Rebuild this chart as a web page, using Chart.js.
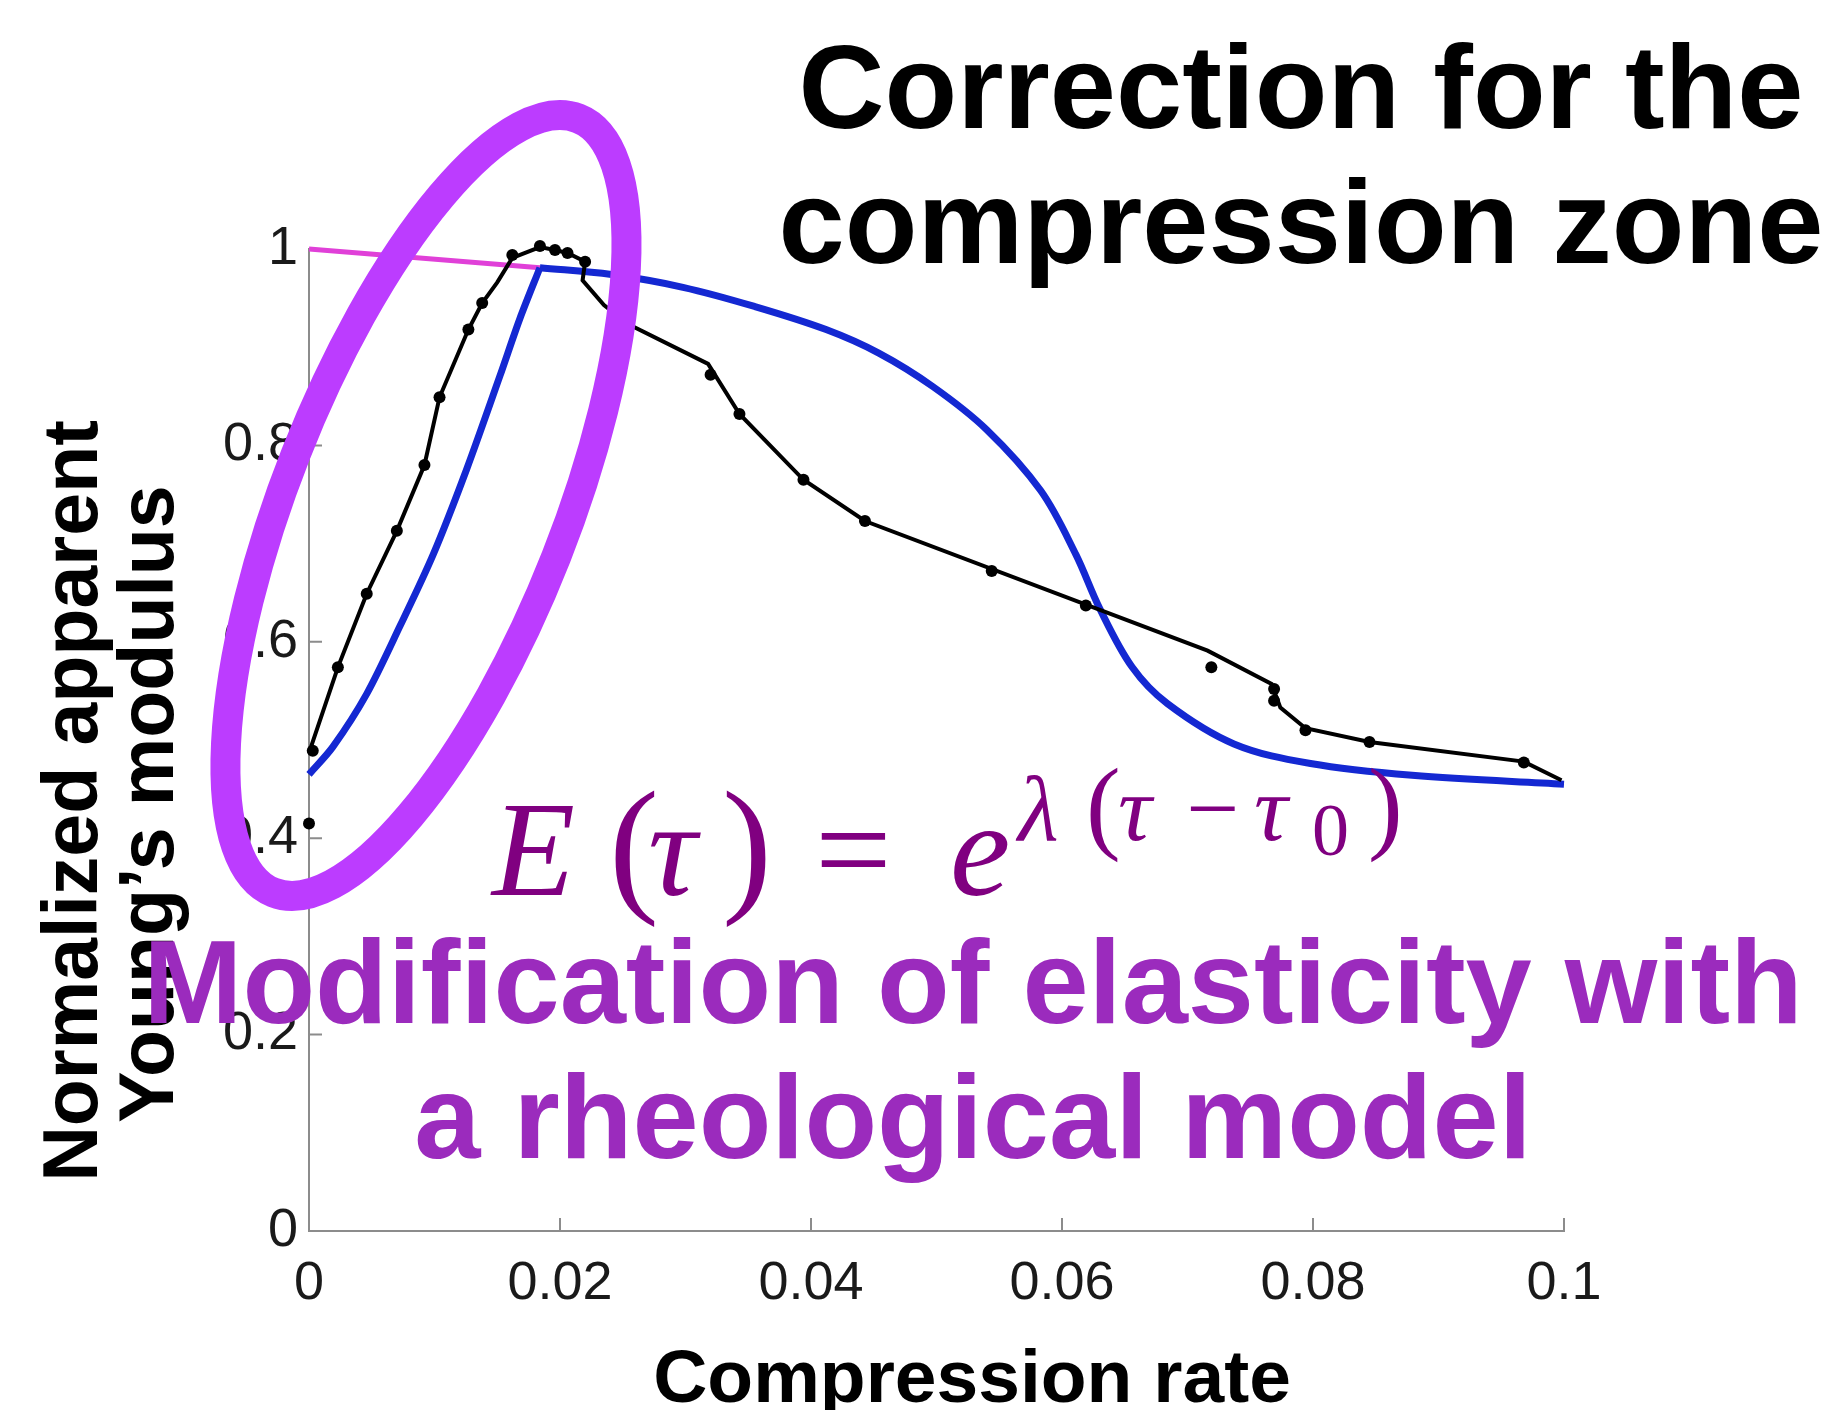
<!DOCTYPE html>
<html>
<head>
<meta charset="utf-8">
<script src="https://cdn.jsdelivr.net/npm/chart.js@4.4.1/dist/chart.umd.min.js"></script>
<style>
  html, body { margin: 0; padding: 0; background: #fff; overflow: hidden; }
  #wrap { position: relative; width: 1830px; height: 1410px; overflow: hidden; }
  canvas { position: absolute; left: 0; top: 0; }
  .t { position: absolute; line-height: 0; white-space: nowrap; font-family: 'Liberation Sans', Arial, sans-serif; font-weight: bold; }
  .c { transform: translate(-50%, -0.3465em); }
  .yt { left: 0; top: 0; transform-origin: 0 0; }
  .f { position: absolute; line-height: 0; white-space: nowrap; font-family: 'Liberation Serif', 'Times New Roman', serif; color: #800080; transform: translateY(-0.3375em); }
  .f.i { font-style: italic; }
</style>
</head>
<body>
<div id="wrap">
  <canvas id="chart" width="1830" height="1410"></canvas>

  <div class="t c" style="left:1301px; top:128px; font-size:119px; color:#000;">Correction for the</div>
  <div class="t c" style="left:1301px; top:263px; font-size:119px; color:#000;">compression zone</div>

  <div class="t yt" style="font-size:77px; color:#000; transform: translate(97px, 801px) rotate(-90deg) translate(-50%, -0.3465em);">Normalized apparent</div>
  <div class="t yt" style="font-size:77px; color:#000; transform: translate(173px, 804px) rotate(-90deg) translate(-50%, -0.3465em);">Young’s modulus</div>

  <div class="t c" style="left:972px; top:1402px; font-size:75px; color:#000;">Compression rate</div>

  <div id="formula"></div>

  <div class="t c" style="left:973px; top:1023px; font-size:119px; color:#9b2bbd;">Modification of elasticity with</div>
  <div class="t c" style="left:973px; top:1158px; font-size:119px; color:#9b2bbd;">a rheological model</div>
</div>

<script>
// tick values and labels
const xTicks = [0, 0.02, 0.04, 0.06, 0.08, 0.1];
const xTickLabels = ['0', '0.02', '0.04', '0.06', '0.08', '0.1'];
const yTicks = [0, 0.2, 0.4, 0.6, 0.8, 1];
const yTickLabels = ['0', '0.2', '0.4', '0.6', '0.8', '1'];

// measured data (black dots)
const dotsX = [0, 0.0003, 0.0023, 0.0046, 0.0070, 0.0092, 0.0104, 0.0127, 0.0138, 0.0162, 0.0184, 0.0196, 0.0206, 0.0220,
               0.0320, 0.0343, 0.0394, 0.0443, 0.0544, 0.0619, 0.0719, 0.0769, 0.0769, 0.0794, 0.0845, 0.0968];
const dotsY = [0.415, 0.489, 0.574, 0.649, 0.713, 0.780, 0.849, 0.918, 0.945, 0.994, 1.003, 0.999, 0.996, 0.987,
               0.872, 0.832, 0.765, 0.723, 0.672, 0.637, 0.574, 0.552, 0.540, 0.510, 0.498, 0.477];

// black fitted line
const blackX = [0, 0.0023, 0.0046, 0.0070, 0.0092, 0.0104, 0.0127, 0.0138, 0.0150, 0.0162, 0.0184, 0.0196, 0.0206, 0.0220,
                0.0218, 0.0235, 0.0255, 0.0318, 0.0343, 0.0394, 0.0443, 0.0716, 0.0767, 0.0774, 0.0794, 0.0845, 0.0968, 0.0998];
const blackY = [0.487, 0.574, 0.649, 0.713, 0.780, 0.849, 0.918, 0.945, 0.966, 0.991, 1.002, 0.999, 0.996, 0.987,
                0.968, 0.943, 0.923, 0.883, 0.832, 0.765, 0.723, 0.591, 0.557, 0.533, 0.512, 0.498, 0.478, 0.459];

// blue model curve, rising then falling part
const blueRiseX = [0, 0.0019, 0.0046, 0.00725, 0.0099, 0.01257, 0.01522, 0.0168, 0.0184];
const blueRiseY = [0.465, 0.493, 0.547, 0.616, 0.689, 0.776, 0.871, 0.929, 0.981];
const blueFallX = [0.0184, 0.0241, 0.0298, 0.0355, 0.0412, 0.0454, 0.0497, 0.0540, 0.0583, 0.0611, 0.0630, 0.0656,
                   0.0684, 0.0737, 0.0798, 0.0879, 0.1];
const blueFallY = [0.981, 0.974, 0.961, 0.9415, 0.918, 0.894, 0.860, 0.816, 0.754, 0.689, 0.634, 0.574,
                   0.537, 0.496, 0.476, 0.464, 0.455];

// magenta correction segment
const magentaX = [0, 0.0184];
const magentaY = [1.0, 0.981];

// highlight ellipse centre (data units)
const ellipseCenter = [0.00932, 0.7388];

const pts = (xs, ys) => xs.map((x, i) => ({ x: x, y: ys[i] }));

// formula glyphs: text, left, baseline, size, italic
const formulaGlyphs = [
  ['E', 492, 895, 136, true], ['(', 609, 895, 150, false], ['τ', 648, 895, 136, true], [')', 722, 895, 150, false],
  ['=', 815, 895, 136, false], ['e', 950, 895, 136, true],
  ['λ', 1018, 840, 94, true], ['(', 1086, 840, 104, false], ['τ', 1118, 840, 94, true], ['−', 1186, 840, 94, false],
  ['τ', 1254, 840, 94, true], ['0', 1312, 855, 74, false], [')', 1368, 840, 104, false]
];
const fDiv = document.getElementById('formula');
formulaGlyphs.forEach(g => {
  const s = document.createElement('div');
  s.className = 'f' + (g[4] ? ' i' : '');
  s.textContent = g[0];
  s.style.left = g[1] + 'px';
  s.style.top = g[2] + 'px';
  s.style.fontSize = g[3] + 'px';
  fDiv.appendChild(s);
});

const innerTicks = {
  id: 'innerTicks',
  beforeDatasetsDraw(chart) {
    const { ctx, chartArea: a, scales: { x, y } } = chart;
    ctx.save();
    ctx.strokeStyle = '#8c8c8c';
    ctx.lineWidth = 2;
    ctx.beginPath();
    x.ticks.forEach(t => { const px = x.getPixelForValue(t.value); ctx.moveTo(px, a.bottom); ctx.lineTo(px, a.bottom - 13); });
    y.ticks.forEach(t => { const py = y.getPixelForValue(t.value); ctx.moveTo(a.left, py); ctx.lineTo(a.left + 13, py); });
    ctx.stroke();
    ctx.restore();
  }
};

const highlight = {
  id: 'highlight',
  afterDatasetsDraw(chart) {
    const { ctx, scales: { x, y } } = chart;
    ctx.save();
    ctx.strokeStyle = '#bc3cff';
    ctx.lineWidth = 30;
    ctx.beginPath();
    ctx.ellipse(x.getPixelForValue(ellipseCenter[0]), y.getPixelForValue(ellipseCenter[1]), 140, 416, 21.5 * Math.PI / 180, 0, 2 * Math.PI);
    ctx.stroke();
    ctx.restore();
  }
};

const tickFont = { family: "'Liberation Sans', Arial, sans-serif", size: 54 };

new Chart(document.getElementById('chart').getContext('2d'), {
  type: 'scatter',
  data: {
    datasets: [
      { data: pts(dotsX, dotsY), showLine: false, pointRadius: 6, pointBackgroundColor: '#000', pointBorderWidth: 0, clip: false, order: 0 },
      { data: pts(blackX, blackY), showLine: true, borderColor: '#000', borderWidth: 4, pointRadius: 0, tension: 0, clip: false, order: 1 },
      { data: pts(blueRiseX, blueRiseY), showLine: true, borderColor: '#1428d2', borderWidth: 7, pointRadius: 0, tension: 0.3, clip: false, order: 2 },
      { data: pts(blueFallX, blueFallY), showLine: true, borderColor: '#1428d2', borderWidth: 7, pointRadius: 0, tension: 0.35, clip: false, order: 2 },
      { data: pts(magentaX, magentaY), showLine: true, borderColor: '#e040d8', borderWidth: 5, pointRadius: 0, clip: false, order: 3 }
    ]
  },
  options: {
    responsive: false,
    animation: false,
    layout: { padding: { top: 249, right: 266, left: 0, bottom: 0 } },
    plugins: { legend: { display: false }, tooltip: { enabled: false } },
    scales: {
      x: {
        type: 'linear', min: 0, max: 0.1,
        afterBuildTicks: s => { s.ticks = xTicks.map(v => ({ value: v })); },
        afterFit: s => { s.height = 179; },
        ticks: { callback: (v, i) => xTickLabels[i], font: tickFont, color: '#1a1a1a', padding: 13, maxRotation: 0, autoSkip: false },
        grid: { display: false },
        border: { color: '#8c8c8c', width: 2 }
      },
      y: {
        type: 'linear', min: 0, max: 1,
        afterBuildTicks: s => { s.ticks = yTicks.map(v => ({ value: v })); },
        afterFit: s => { s.width = 309; },
        ticks: { callback: (v, i) => yTickLabels[i], font: tickFont, color: '#1a1a1a', padding: 3, autoSkip: false },
        grid: { display: false },
        border: { color: '#8c8c8c', width: 2 }
      }
    }
  },
  plugins: [innerTicks, highlight]
});
</script>
</body>
</html>
